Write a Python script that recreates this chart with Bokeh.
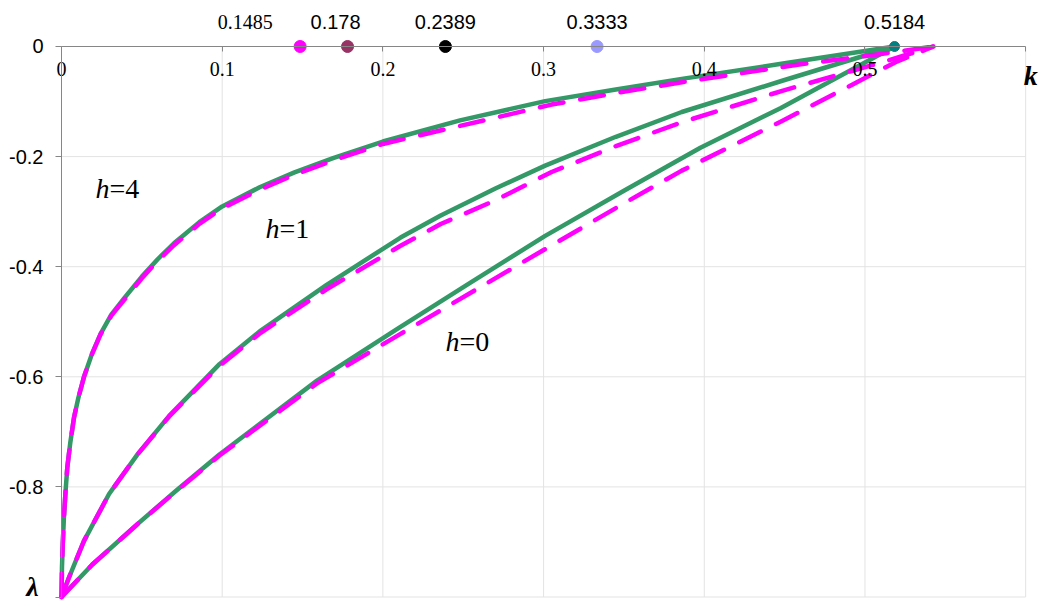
from bokeh.plotting import figure
from bokeh.models import Range1d, FixedTicker, ColumnDataSource
from bokeh.embed import file_html
from bokeh.resources import INLINE
from bokeh.core.properties import value

# ---------------- data ----------------
# h = 0
h0_green_k = [0, 0.0192, 0.0483, 0.0713, 0.0983, 0.159, 0.209, 0.255, 0.301, 0.35, 0.3976, 0.4474, 0.5184]
h0_green_l = [-1, -0.941, -0.865, -0.807, -0.741, -0.607, -0.513, -0.428, -0.344, -0.262, -0.184, -0.112, 0]
h0_mag_k = [0, 0.0192, 0.0483, 0.0713, 0.0983, 0.159, 0.211, 0.256, 0.301, 0.353, 0.386, 0.449, 0.519, 0.5425]
h0_mag_l = [-1, -0.941, -0.865, -0.808, -0.743, -0.612, -0.522, -0.445, -0.368, -0.28, -0.2255, -0.1345, -0.0285, 0]
# h = 1
h1_green_k = [0, 0.0046, 0.014, 0.0296, 0.0473, 0.067, 0.0983, 0.124, 0.165, 0.211, 0.236, 0.27, 0.301, 0.345, 0.386, 0.449, 0.5184]
h1_green_l = [-1, -0.965, -0.898, -0.813, -0.741, -0.671, -0.577, -0.516, -0.433, -0.347, -0.307, -0.258, -0.2164, -0.164, -0.119, -0.0618, 0]
h1_mag_k = [0, 0.0046, 0.014, 0.0296, 0.0473, 0.067, 0.0983, 0.124, 0.165, 0.211, 0.236, 0.2696, 0.305, 0.345, 0.386, 0.449, 0.511, 0.5425]
h1_mag_l = [-1, -0.965, -0.898, -0.813, -0.741, -0.672, -0.58, -0.52, -0.441, -0.362, -0.3224, -0.28, -0.228, -0.181, -0.1376, -0.08, -0.0285, 0]
# h = 4
h4_green_k = [0, 0.0003, 0.0008, 0.0015, 0.0025, 0.0036, 0.0055, 0.0078, 0.0105, 0.014, 0.019, 0.0243, 0.031, 0.0388,
              0.05, 0.06, 0.07, 0.0858, 0.1, 0.1233, 0.145, 0.169, 0.2, 0.248, 0.301, 0.345, 0.386, 0.449, 0.5184]
h4_green_l = [-1, -0.946, -0.903, -0.856, -0.809, -0.765, -0.719, -0.674, -0.638, -0.6, -0.558, -0.522, -0.487, -0.458,
              -0.418, -0.386, -0.3575, -0.319, -0.2906, -0.2557, -0.2286, -0.2027, -0.1726, -0.1342, -0.0992, -0.078, -0.0588, -0.031, 0]
h4_mag_k = [0, 0.0003, 0.0008, 0.0015, 0.0025, 0.0036, 0.0055, 0.0078, 0.0105, 0.014, 0.019, 0.0243, 0.031, 0.0388,
            0.05, 0.06, 0.07, 0.0858, 0.1, 0.1233, 0.145, 0.169, 0.2, 0.2425, 0.305, 0.345, 0.386, 0.459, 0.511, 0.5425]
h4_mag_l = [-1, -0.946, -0.903, -0.856, -0.809, -0.765, -0.719, -0.674, -0.638, -0.6, -0.559, -0.523, -0.489, -0.461,
            -0.421, -0.389, -0.361, -0.322, -0.294, -0.26, -0.233, -0.207, -0.177, -0.148, -0.1055, -0.0845, -0.065, -0.0327, -0.0133, 0]

# special points on the k axis
point_k = [0.1485, 0.178, 0.2389, 0.3333, 0.5184]
point_labels = ["0.1485", "0.178", "0.2389", "0.3333", "0.5184"]

# curve labels
h_values = ["0", "1", "4"]

# axes
x_ticks = [0, 0.1, 0.2, 0.3, 0.4, 0.5, 0.6]
x_tick_labels = ["0", "0.1", "0.2", "0.3", "0.4", "0.5", ""]
y_ticks = [0, -0.2, -0.4, -0.6, -0.8, -1.0]
y_tick_labels = ["0", "-0.2", "-0.4", "-0.6", "-0.8", ""]
x_name = "k"
y_name = "λ"

# ---------------- styles / positions ----------------
GREEN = "#339966"
MAGENTA = "#FF00FF"
GRID = "#e3e3e3"
AXIS = "#868686"
SERIF = "Liberation Serif"
SANS = "Liberation Sans"

point_colors = ["#FF00FF", "#993366", "#000000", "#9999FF", "#008080"]
point_sizes = [12, 12, 12, 12, 10]
point_label_fonts = [SERIF, SANS, SANS, SANS, SANS]
point_label_dx = [-55, -12, 0, 0, 0]

h_label_k = [0.2477, 0.1357, 0.0299]
h_label_l = [-0.536, -0.331, -0.258]

# ---------------- figure ----------------
# whole canvas is the frame; both axes are drawn at fixed locations (k = 0, lambda = 0)
p = figure(width=1043, height=601,
           x_range=Range1d(-0.03796, 0.6111), y_range=Range1d(-1.00817, 0.08356),
           output_backend="svg", toolbar_location=None,
           min_border_left=0, min_border_right=0,
           min_border_top=0, min_border_bottom=0)
p.outline_line_color = None
p.background_fill_color = "white"
p.xgrid.visible = False
p.ygrid.visible = False

xa = p.xaxis[0]
xa.fixed_location = 0
xa.bounds = (x_ticks[0], x_ticks[-1])
xa.ticker = FixedTicker(ticks=x_ticks)
xa.major_label_overrides = dict(zip(x_ticks, x_tick_labels))
xa.major_label_text_font = SERIF
xa.major_label_text_font_size = "20px"
xa.major_label_text_color = "black"
xa.major_label_standoff = 11
xa.major_tick_out = 5
xa.major_tick_in = 0
xa.minor_tick_out = 0
xa.minor_tick_in = 0
xa.axis_line_color = AXIS
xa.major_tick_line_color = AXIS

ya = p.yaxis[0]
ya.fixed_location = 0
ya.ticker = FixedTicker(ticks=y_ticks)
ya.major_label_overrides = dict(zip(y_ticks, y_tick_labels))
ya.bounds = (y_ticks[-1], y_ticks[0])
ya.major_label_text_font = SANS
ya.major_label_text_font_size = "20px"
ya.major_label_text_color = "black"
ya.major_label_standoff = 12
ya.major_tick_out = 6
ya.major_tick_in = 0
ya.minor_tick_out = 0
ya.minor_tick_in = 0
ya.axis_line_color = AXIS
ya.major_tick_line_color = AXIS

# grid lines limited to the quadrant 0..0.6 x -1..0
gx = x_ticks[1:]
p.segment(x0=gx, y0=[y_ticks[-1]] * len(gx), x1=gx, y1=[y_ticks[0]] * len(gx),
          line_color=GRID, line_width=1)
gy = y_ticks[1:]
p.segment(x0=[x_ticks[0]] * len(gy), y0=gy, x1=[x_ticks[-1]] * len(gy), y1=gy,
          line_color=GRID, line_width=1)

# curves: green solid, magenta dashed on top
for gk, gl in [(h0_green_k, h0_green_l), (h1_green_k, h1_green_l), (h4_green_k, h4_green_l)]:
    p.line(gk, gl, line_color=GREEN, line_width=4.5, line_join="round")
for mk, ml in [(h0_mag_k, h0_mag_l), (h1_mag_k, h1_mag_l), (h4_mag_k, h4_mag_l)]:
    p.line(mk, ml, line_color=MAGENTA, line_width=4.5, line_dash="24 17",
           line_cap="round", line_join="round")

# points on the k axis
p.scatter(x=point_k, y=[0] * len(point_k), size=point_sizes,
          fill_color=point_colors, line_color=point_colors)

src = ColumnDataSource(dict(x=point_k, y=[0] * len(point_k), t=point_labels,
                            f=point_label_fonts, dx=point_label_dx))
p.text(x="x", y="y", text="t", source=src, x_offset="dx", y_offset=-24,
       text_font="f", text_font_size="20px", text_color="black",
       text_align="center", text_baseline="middle")

# h = ... labels (italic h, upright "=n")
p.text(x=h_label_k, y=h_label_l, text=["h"] * len(h_values),
       text_font=value(SERIF), text_font_style="italic", text_font_size="28px",
       text_align="right", text_baseline="middle", text_color="black")
p.text(x=h_label_k, y=h_label_l, text=["=" + v for v in h_values],
       text_font=value(SERIF), text_font_size="28px",
       text_align="left", text_baseline="middle", text_color="black")

# axis names
p.text(x=[x_ticks[-1]], y=[y_ticks[0]], text=[x_name], x_offset=5, y_offset=29,
       text_font=value(SERIF), text_font_style="bold italic", text_font_size="28px",
       text_align="center", text_baseline="middle", text_color="black")
p.text(x=[x_ticks[0]], y=[y_ticks[-1]], text=[y_name], x_offset=-29, y_offset=-11,
       text_font=value(SERIF), text_font_style="bold italic", text_font_size="28px",
       text_align="center", text_baseline="middle", text_color="black")

open("out.html", "w").write(file_html(p, INLINE))
